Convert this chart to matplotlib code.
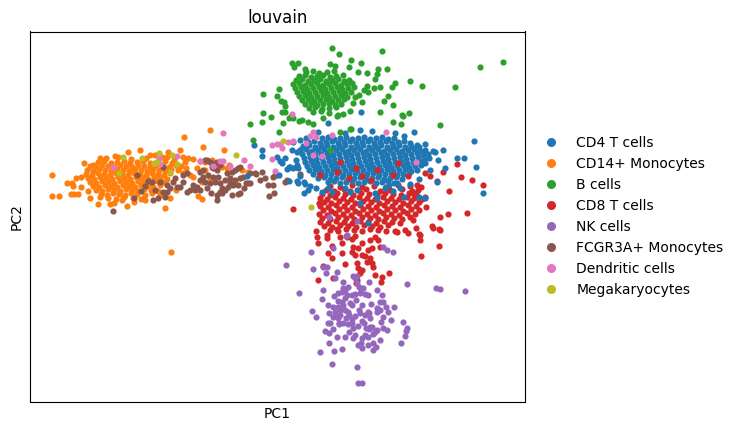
import matplotlib
matplotlib.use('Agg')
import matplotlib.pyplot as plt
import numpy as np
from matplotlib.lines import Line2D

# cell coordinates, in the plot's own PC units
# (PC2 grows downward in these units; the axis is inverted below)
categories = ['CD4 T cells', 'CD14+ Monocytes', 'B cells', 'CD8 T cells', 'NK cells',
              'FCGR3A+ Monocytes', 'Dendritic cells', 'Megakaryocytes']
colors = ['#1f77b4', '#ff7f0e', '#2ca02c', '#d62728', '#9467bd',
          '#8c564b', '#e377c2', '#bcbd22']

cd14_mono = [
    (52, 175), (52, 196), (59, 196), (72, 183), (73, 186), (71, 194), (74, 194), (78, 194), (84, 163), (93, 165),
    (98, 204), (100, 197), (114, 203), (127, 206), (165, 208), (171, 252), (184, 137), (210, 130), (203, 147), (224, 150),
    (188, 158), (193, 159), (200, 161), (205, 162), (212, 160), (218, 167), (222, 167), (229, 165), (227, 168), (242, 170),
    (202, 182), (198, 196), (202, 199), (190, 175), (193, 177), (183, 173), (197, 168), (205, 170), (210, 178), (248, 172),
    (81, 177), (81, 187), (88, 191), (76, 178), (67, 183), (174, 160), (178, 167), (185, 162), (180, 150), (168, 152),
    (150, 155), (140, 150), (128, 152), (115, 156), (100, 158), (122, 200), (134, 202), (145, 200), (160, 195), (170, 198),
    (176, 190), (186, 168), (110, 204), (90, 198), (155, 155), (167, 157), (183, 157),
    (106, 158), (118, 157), (131, 159), (146, 158), (162, 157),
    (98, 162), (104, 161), (111, 163), (117, 162), (124, 161), (130, 163), (137, 162), (143, 161), (150, 163), (157, 162),
    (165, 161), (172, 163),
    (90, 166), (96, 167), (102, 165), (108, 166), (114, 167), (120, 165), (126, 166), (132, 167), (138, 165), (144, 166),
    (150, 167), (156, 165), (163, 166), (169, 167), (176, 165), (181, 166),
    (87, 170), (93, 171), (99, 169), (105, 170), (111, 171), (117, 169), (123, 170), (129, 171), (135, 169), (141, 170),
    (147, 171), (153, 169), (159, 170), (165, 171), (171, 169), (178, 170),
    (86, 174), (92, 175), (98, 173), (104, 174), (110, 175), (116, 173), (122, 174), (128, 175), (134, 173), (140, 174),
    (146, 175), (152, 173), (158, 174), (164, 175), (170, 173),
    (88, 178), (94, 179), (100, 177), (106, 178), (112, 179), (118, 177), (124, 178), (130, 179), (136, 177), (142, 178),
    (148, 179), (154, 177), (160, 178), (167, 179),
    (90, 182), (96, 183), (102, 181), (108, 182), (114, 183), (120, 181), (126, 182), (132, 183), (138, 181), (144, 182),
    (150, 183), (157, 181), (163, 182),
    (93, 186), (99, 187), (105, 185), (111, 186), (117, 187), (123, 185), (129, 186), (135, 187), (141, 185), (147, 186),
    (153, 187), (160, 185),
    (96, 190), (102, 191), (108, 189), (114, 190), (120, 191), (126, 189), (132, 190), (138, 191), (144, 189), (151, 190),
    (158, 191),
    (101, 194), (107, 195), (113, 193), (119, 194), (125, 195), (131, 193), (137, 194), (145, 195), (152, 193),
    (108, 198), (116, 199), (124, 197), (133, 198), (141, 199),
]

fcgr3a_mono = [
    (207, 160), (210, 162), (215, 163), (220, 165), (213, 168), (217, 170), (227, 173), (232, 172), (235, 170), (238, 168),
    (240, 167), (243, 177), (208, 175), (213, 177), (218, 177), (203, 177), (200, 180), (205, 182), (210, 183), (215, 182),
    (220, 183), (225, 180), (230, 178), (235, 180), (240, 178), (230, 183), (233, 185), (238, 185), (222, 188), (225, 190),
    (220, 192), (217, 195), (232, 195), (238, 194), (197, 187), (200, 190), (190, 190), (187, 192), (183, 182), (180, 187),
    (173, 182), (170, 188), (167, 185), (163, 192), (160, 182), (217, 200), (248, 183), (250, 183), (255, 173), (262, 172),
    (265, 178), (268, 185), (273, 177), (277, 175), (285, 182), (287, 180), (274, 193), (269, 196), (200, 172), (203, 170),
    (113, 211), (134, 198), (153, 200), (158, 198), (165, 197), (167, 192), (152, 182), (148, 181), (137, 175), (141, 191),
    (163, 167), (183, 175), (187, 173), (205, 160), (212, 167), (217, 162), (195, 190), (207, 188), (222, 193), (240, 193),
    (250, 173), (256, 174), (273, 185), (275, 175), (300, 174), (145, 186), (155, 190), (175, 178), (177, 187), (246, 183),
    (193, 185), (228, 187), (211, 193), (244, 188), (260, 180),
]

cd8_t = [
    (457, 164), (443, 172), (461, 177), (437, 181), (430, 176), (483, 185), (449, 191), (421, 187), (413, 193), (425, 197),
    (467, 213), (448, 214), (440, 217), (432, 226), (433, 228), (439, 229), (413, 220), (416, 228), (420, 235), (405, 230),
    (397, 232), (293, 209), (319, 203), (316, 231), (317, 237), (327, 235), (337, 229),
    (318, 243), (327, 238), (332, 246), (328, 253), (332, 258), (340, 237), (342, 243), (342, 253), (347, 237), (352, 239),
    (355, 236), (352, 252), (355, 255), (353, 247), (358, 248), (362, 243), (362, 255), (365, 256), (370, 240), (375, 237),
    (378, 240), (372, 248), (368, 250), (370, 258), (372, 263), (373, 267), (367, 262), (357, 263), (358, 268), (362, 270),
    (360, 273), (357, 280), (356, 283), (345, 264), (323, 266), (333, 278), (318, 280), (380, 247), (389, 273), (381, 282),
    (382, 277), (375, 275), (395, 231), (408, 233), (419, 234), (420, 240), (439, 246), (421, 256), (440, 230), (472, 180),
    (330, 186), (340, 187), (352, 185), (362, 187), (374, 186), (386, 187), (398, 185), (410, 186),
    (326, 190), (334, 191), (344, 189), (350, 191), (358, 190), (366, 189), (380, 191), (390, 190), (402, 189), (412, 191),
    (418, 190),
    (322, 194), (330, 195), (337, 193), (345, 194), (353, 195), (361, 193), (369, 194), (377, 195), (385, 193), (393, 194),
    (401, 195), (409, 193), (416, 194),
    (320, 198), (327, 199), (335, 197), (343, 198), (351, 199), (359, 197), (367, 198), (375, 199), (383, 197), (391, 198),
    (399, 199), (407, 197), (414, 198), (422, 199),
    (324, 202), (331, 203), (339, 201), (347, 202), (355, 203), (363, 201), (371, 202), (379, 203), (387, 201), (395, 202),
    (403, 203), (411, 201), (419, 202),
    (320, 206), (328, 207), (336, 205), (344, 206), (352, 207), (360, 205), (368, 206), (376, 207), (384, 205), (392, 206),
    (400, 207), (408, 205), (416, 206), (426, 207),
    (323, 210), (331, 211), (339, 209), (347, 210), (355, 211), (363, 209), (371, 210), (379, 211), (387, 209), (395, 210),
    (403, 211), (411, 209), (419, 210),
    (319, 214), (327, 215), (335, 213), (343, 214), (351, 215), (359, 213), (367, 214), (375, 215), (383, 213), (391, 214),
    (399, 215), (407, 213), (415, 214),
    (322, 218), (330, 219), (338, 217), (346, 218), (354, 219), (362, 217), (370, 218), (378, 219), (386, 217), (394, 218),
    (402, 219), (410, 217),
    (320, 222), (328, 223), (336, 221), (344, 222), (352, 223), (360, 221), (368, 222), (376, 223), (384, 221), (392, 222),
    (400, 223),
    (324, 226), (332, 227), (340, 225), (348, 226), (356, 227), (364, 225), (372, 226), (380, 227), (388, 225),
    (330, 230), (338, 231), (346, 229), (354, 230), (362, 231), (370, 229), (378, 230), (386, 231),
]

# CD8 cells that sit on top of the CD4 cloud
cd8_t_front = [
    (340, 162), (356, 168), (349, 178), (371, 180), (393, 175), (377, 170), (408, 176), (398, 163), (337, 172), (320, 175),
    (362, 176), (425, 173), (417, 185),
]

cd4_t = [
    (328, 123), (254, 145), (262, 150), (262, 156), (247, 176), (277, 157), (280, 161), (282, 163), (287, 169), (289, 167),
    (292, 150), (279, 175), (298, 183), (304, 182), (304, 193), (308, 190), (322, 192), (328, 188), (332, 192), (357, 190),
    (360, 203), (375, 193), (368, 223), (389, 185), (393, 191), (397, 183), (414, 132), (419, 147), (425, 144), (433, 151),
    (435, 152), (424, 162), (419, 179), (437, 182), (419, 197), (425, 198), (457, 158), (464, 158), (474, 141), (476, 167),
    (483, 193), (404, 197), (377, 198), (285, 158), (290, 167), (293, 168), (297, 165), (298, 168), (289, 181), (297, 181),
    (293, 142), (297, 152), (361, 112), (300, 150), (296, 160), (300, 176), (305, 184), (310, 186), (316, 188), (345, 188),
    (350, 192), (385, 188), (400, 188), (410, 184), (430, 170), (438, 160), (445, 168), (443, 150), (300, 140), (306, 138),
    (318, 132), (345, 133), (360, 130), (372, 131), (395, 133), (404, 136),
    (322, 138), (328, 137), (334, 139), (340, 138), (346, 137), (352, 139), (358, 138), (364, 137), (370, 139), (376, 138),
    (382, 137), (388, 139), (394, 138),
    (308, 142), (314, 141), (320, 143), (326, 142), (332, 141), (338, 143), (344, 142), (350, 141), (356, 143), (362, 142),
    (368, 141), (374, 143), (380, 142), (386, 141), (392, 143), (398, 142), (404, 141), (410, 143),
    (303, 146), (309, 145), (315, 147), (321, 146), (327, 145), (333, 147), (339, 146), (345, 145), (351, 147), (357, 146),
    (363, 145), (369, 147), (375, 146), (381, 145), (387, 147), (393, 146), (399, 145), (405, 147), (411, 146), (417, 145),
    (300, 150), (306, 149), (312, 151), (318, 150), (324, 149), (330, 151), (336, 150), (342, 149), (348, 151), (354, 150),
    (360, 149), (366, 151), (372, 150), (378, 149), (384, 151), (390, 150), (396, 149), (402, 151), (408, 150), (414, 149),
    (420, 151), (425, 150),
    (302, 154), (309, 153), (315, 155), (321, 154), (327, 153), (333, 155), (339, 154), (345, 153), (351, 155), (357, 154),
    (363, 153), (369, 155), (375, 154), (381, 153), (387, 155), (393, 154), (399, 153), (405, 155), (411, 154), (417, 153),
    (423, 155), (428, 154),
    (304, 158), (310, 157), (316, 159), (322, 158), (328, 157), (334, 159), (340, 158), (346, 157), (352, 159), (358, 158),
    (364, 157), (370, 159), (376, 158), (382, 157), (388, 159), (394, 158), (400, 157), (406, 159), (412, 158), (418, 157),
    (424, 159), (429, 158),
    (305, 162), (311, 161), (317, 163), (323, 162), (329, 161), (335, 163), (341, 162), (347, 161), (353, 163), (359, 162),
    (365, 161), (371, 163), (377, 162), (383, 161), (389, 163), (395, 162), (401, 161), (407, 163), (413, 162), (419, 161),
    (425, 163),
    (307, 166), (313, 165), (319, 167), (325, 166), (331, 165), (337, 167), (343, 166), (349, 165), (355, 167), (361, 166),
    (367, 165), (373, 167), (379, 166), (385, 165), (391, 167), (397, 166), (403, 165), (409, 167), (415, 166), (421, 165),
    (309, 170), (315, 169), (321, 171), (327, 170), (333, 169), (339, 171), (345, 170), (351, 169), (357, 171), (363, 170),
    (369, 169), (375, 171), (381, 170), (387, 169), (393, 171), (399, 170), (405, 169), (411, 171), (417, 170),
    (313, 174), (319, 173), (325, 175), (331, 174), (337, 173), (343, 175), (349, 174), (355, 173), (361, 175), (367, 174),
    (373, 173), (379, 175), (385, 174), (391, 173), (397, 175), (403, 174), (409, 173),
    (318, 178), (324, 177), (330, 179), (336, 178), (342, 177), (348, 179), (354, 178), (360, 177), (366, 179), (372, 178),
    (378, 177), (384, 179), (390, 178), (396, 177), (402, 179),
    (328, 182), (334, 181), (340, 183), (346, 182), (352, 181), (358, 183), (364, 182), (370, 181), (376, 183), (382, 182),
    (388, 181), (394, 183),
]

b_cells = [
    (332, 48), (339, 54), (382, 51), (503, 62), (480, 67), (455, 87), (422, 86), (410, 81), (395, 83), (392, 87),
    (388, 96), (384, 101), (393, 105), (380, 112), (402, 115), (403, 116), (409, 113), (393, 122), (401, 124), (440, 125),
    (351, 129), (340, 132), (279, 132), (253, 140), (250, 124), (262, 122), (271, 117), (263, 113), (263, 94), (283, 123),
    (292, 63), (298, 63), (294, 67), (305, 69), (351, 60), (361, 63), (330, 64), (335, 66), (378, 69), (387, 69),
    (377, 74), (375, 79), (367, 73), (358, 72), (349, 67), (277, 96), (279, 89), (281, 101), (284, 102), (285, 106),
    (282, 112), (285, 112), (289, 118), (293, 118), (299, 121), (302, 120), (308, 122), (313, 124), (323, 118), (337, 116),
    (338, 115), (343, 114), (350, 111), (362, 102), (353, 103), (367, 86), (364, 90), (368, 92), (359, 95), (355, 97),
    (374, 88), (380, 87), (330, 150), (350, 129), (291, 116),
    (306, 72), (313, 71), (319, 73), (327, 72), (334, 71),
    (299, 76), (305, 75), (311, 77), (317, 76), (323, 75), (330, 77), (336, 76), (343, 75),
    (296, 80), (302, 79), (308, 81), (314, 80), (320, 79), (326, 81), (332, 80), (338, 79), (344, 81), (349, 80),
    (293, 84), (299, 83), (305, 85), (311, 84), (317, 83), (323, 85), (329, 84), (335, 83), (341, 85), (347, 84),
    (352, 83),
    (295, 88), (301, 87), (307, 89), (313, 88), (319, 87), (325, 89), (331, 88), (337, 87), (342, 89), (348, 88),
    (354, 87),
    (297, 92), (303, 91), (309, 93), (315, 92), (321, 91), (327, 93), (333, 92), (339, 91), (345, 93), (351, 92),
    (299, 96), (305, 95), (311, 97), (317, 96), (323, 95), (329, 97), (335, 96), (341, 95), (347, 97),
    (302, 100), (308, 99), (314, 101), (320, 100), (326, 99), (332, 101), (338, 100), (344, 99),
    (305, 104), (311, 103), (317, 105), (323, 104), (329, 103), (335, 105), (341, 104),
    (309, 108), (315, 107), (322, 109), (329, 108), (336, 107),
    (313, 112), (321, 111), (329, 113),
]

nk_cells = [
    (286, 265), (311, 252), (313, 269), (299, 293), (323, 267), (327, 267), (326, 273), (333, 248), (337, 272), (335, 278),
    (343, 282), (323, 290), (322, 299), (328, 305), (312, 311), (316, 317), (329, 313), (330, 323), (333, 317), (337, 317),
    (325, 331), (329, 333), (333, 329), (339, 323), (345, 337), (349, 332), (353, 328), (355, 335), (353, 338), (358, 345),
    (361, 343), (362, 348), (329, 343), (320, 352), (334, 351), (342, 349), (332, 364), (357, 367), (358, 383), (362, 383),
    (368, 345), (368, 337), (365, 335), (373, 350), (376, 347), (380, 340), (375, 332), (377, 330), (370, 327), (372, 327),
    (383, 328), (387, 330), (381, 322), (370, 318), (369, 313), (364, 323), (362, 321), (360, 313), (359, 310), (365, 315),
    (368, 312), (355, 316), (352, 319), (348, 324), (352, 323), (343, 323), (339, 324), (340, 315), (338, 318), (348, 312),
    (349, 315), (345, 310), (340, 310), (338, 307), (342, 302), (338, 301), (345, 298), (347, 295), (352, 295), (355, 294),
    (350, 303), (352, 305), (338, 293), (342, 292), (343, 288), (345, 290), (348, 287), (357, 283), (359, 287), (361, 289),
    (363, 288), (360, 293), (365, 294), (368, 295), (369, 282), (377, 290), (382, 295), (380, 302), (383, 302), (377, 308),
    (380, 310), (377, 312), (386, 307), (388, 312), (383, 317), (391, 320), (394, 307), (403, 322), (407, 328), (406, 331),
    (405, 336), (401, 343), (407, 284), (440, 289), (465, 291), (393, 252), (387, 250), (383, 247), (347, 235), (353, 276),
    (357, 276), (355, 278), (333, 307), (335, 312), (328, 323), (337, 337), (362, 338), (369, 329), (373, 343), (373, 334),
    (329, 217), (357, 221), (346, 236), (436, 288),
    (343, 305), (356, 300), (362, 305), (358, 326), (346, 318), (334, 296), (371, 304), (366, 328),
]

dendritic = [
    (223, 133), (200, 161), (213, 166), (220, 161), (223, 161), (230, 166), (244, 160), (250, 166), (272, 159), (275, 171),
    (282, 148), (280, 144), (288, 142), (293, 141), (277, 144), (177, 156), (160, 164), (113, 167), (272, 145), (310, 136),
    (316, 137), (313, 132), (332, 135), (306, 143), (313, 155), (322, 156), (386, 132), (416, 162), (292, 114), (159, 158),
]

megakaryocytes = [
    (123, 157), (142, 158), (159, 153), (172, 155), (236, 155), (119, 173), (170, 172), (154, 163), (157, 162), (177, 164),
    (283, 141), (311, 207),
]

fig = plt.figure(figsize=(7.42, 4.3), dpi=100)
ax = fig.add_axes([29.5 / 742, 28.5 / 430, 495.5 / 742, 370 / 430])

dot = 20
layers = [
    (cd14_mono, colors[1]),
    (fcgr3a_mono, colors[5]),
    (cd8_t, colors[3]),
    (cd4_t, colors[0]),
    (cd8_t_front, colors[3]),
    (b_cells, colors[2]),
    (nk_cells, colors[4]),
    (dendritic, colors[6]),
    (megakaryocytes, colors[7]),
]
for pts, c in layers:
    pts = np.array(pts, dtype=float)
    ax.scatter(pts[:, 0], pts[:, 1], s=dot, c=c, linewidths=0)

ax.set_xlim(29.5, 525)
ax.set_ylim(401.5, 31.5)
ax.set_xticks([])
ax.set_yticks([])
ax.set_xlabel('PC1')
ax.set_ylabel('PC2')
ax.set_title('louvain', fontsize=12)

handles = [Line2D([], [], marker='o', linestyle='', markersize=6.5, markeredgewidth=0,
                  color=c, label=lab) for lab, c in zip(categories, colors)]
ax.legend(handles=handles, loc='center left', bbox_to_anchor=(1, 0.5), frameon=False,
          fontsize=10, labelspacing=0.5)

fig.savefig('out.png', dpi=100)
